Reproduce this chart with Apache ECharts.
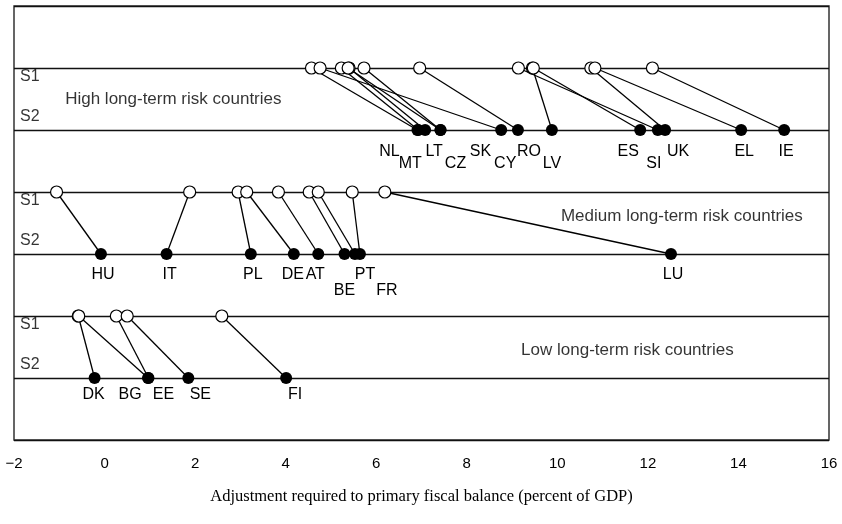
<!DOCTYPE html>
<html>
<head>
<meta charset="utf-8">
<script src="https://cdn.jsdelivr.net/npm/echarts@6/dist/echarts.min.js"></script>
<style>
  html, body { margin: 0; padding: 0; background: #fff; }
  #chart { width: 842px; height: 524px; }
</style>
</head>
<body>
<div id="chart"></div>
<script>
// Fiscal adjustment required under the S1 and S2 sustainability indicators
const highCountries = ['NL', 'MT', 'LT', 'CZ', 'SK', 'CY', 'RO', 'LV', 'ES', 'SI', 'UK', 'EL', 'IE'];
const highS1 = [4.57, 5.23, 5.40, 5.38, 5.73, 4.76, 6.96, 9.45, 9.47, 9.14, 10.74, 10.83, 12.10];
const highS2 = [6.91, 6.93, 7.08, 7.42, 7.42, 8.76, 9.13, 9.88, 11.83, 12.22, 12.38, 14.06, 15.01];

const mediumCountries = ['HU', 'IT', 'PL', 'DE', 'AT', 'BE', 'PT', 'FR', 'LU'];
const mediumS1 = [-1.06, 1.88, 2.95, 3.14, 3.84, 4.52, 4.72, 5.47, 6.19];
const mediumS2 = [-0.08, 1.37, 3.23, 4.18, 4.72, 5.30, 5.53, 5.64, 12.51];

const lowCountries = ['DK', 'BG', 'EE', 'SE', 'FI'];
const lowS1 = [-0.58, -0.57, 0.26, 0.50, 2.59];
const lowS2 = [-0.22, 0.96, 0.97, 1.85, 4.01];

const xTicks = [-2, 0, 2, 4, 6, 8, 10, 12, 14, 16];
const groupTitles = ['High long-term risk countries', 'Medium long-term risk countries', 'Low long-term risk countries'];
const rowNames = ['S1', 'S2'];

// Label placement for country names (pixel nudge from the S2 dot, and row: 0 upper, 1 lower)
const nameNudge = {
  NL: [-28, 0], MT: [-8, 1], LT: [9, 0], CZ: [15, 1], SK: [40, 0], CY: [4, 1], RO: [11, 0],
  LV: [0, 1], ES: [-12, 0], SI: [-4, 1], UK: [13, 0], EL: [3, 0], IE: [2, 0],
  HU: [2, 0], IT: [3, 0], PL: [2, 0], DE: [-1, 0], AT: [-3, 0], BE: [0, 1], PT: [10, 0],
  FR: [27, 1], LU: [2, 0],
  DK: [-1, 0], BG: [-18, 0], EE: [15, 0], SE: [12, 0], FI: [9, 0]
};

const FONT = "'Liberation Sans', Arial, sans-serif";

// Each group occupies two rows on the band axis: S1 above, S2 below
const groups = [
  { names: highCountries, s1: highS1, s2: highS2, yS1: 6, yS2: 5, drop: [21.5, 34] },
  { names: mediumCountries, s1: mediumS1, s2: mediumS2, yS1: 4, yS2: 3, drop: [21, 37] },
  { names: lowCountries, s1: lowS1, s2: lowS2, yS1: 2, yS2: 1, drop: [17, 30] }
];

const linkData = [];
const s1Data = [];
const s2Data = [];
groups.forEach(g => {
  g.names.forEach((name, i) => {
    linkData.push({ coords: [[g.s1[i], g.yS1], [g.s2[i], g.yS2]] });
    s1Data.push({ name: name, value: [g.s1[i], g.yS1] });
    const nudge = nameNudge[name] || [0, 0];
    s2Data.push({
      name: name,
      value: [g.s2[i], g.yS2],
      label: { offset: [nudge[0], g.drop[nudge[1]]] }
    });
  });
});

// Group captions and row tags
const titleSpots = [[-0.87, 5.5], [10.08, 3.613], [9.2, 1.452]];
const noteData = groupTitles.map((t, i) => ({ name: t, value: titleSpots[i], label: { fontSize: 17 } }));
groups.forEach(g => {
  noteData.push({ name: rowNames[0], value: [-2, g.yS1], label: { offset: [6, 9] } });
  noteData.push({ name: rowNames[1], value: [-2, g.yS2], label: { offset: [6, -13] } });
});

const chart = echarts.init(document.getElementById('chart'), null, { renderer: 'canvas' });
chart.setOption({
  animation: false,
  backgroundColor: '#ffffff',
  grid: {
    left: 14, right: 13, top: 6, bottom: 84,
    show: true, borderColor: '#333', borderWidth: 1.5, backgroundColor: 'transparent'
  },
  xAxis: {
    type: 'value', min: -2, max: 16, interval: 2,
    axisLine: { show: false }, axisTick: { show: false }, splitLine: { show: false },
    axisLabel: {
      color: '#000', fontSize: 15, fontFamily: FONT, margin: 16,
      formatter: v => xTicks.includes(v) ? String(v).replace('-', '\u2212') : ''
    },
    name: 'Adjustment required to primary fiscal balance (percent of GDP)',
    nameLocation: 'middle', nameGap: 48,
    nameTextStyle: { color: '#000', fontSize: 16.5, fontFamily: "'Liberation Serif', 'Times New Roman', serif" }
  },
  yAxis: {
    type: 'value', min: 0, max: 7, interval: 1,
    axisLine: { show: false }, axisTick: { show: false }, axisLabel: { show: false },
    splitLine: { show: true, lineStyle: { color: '#111', width: 1.3 } }
  },
  series: [
    {
      type: 'lines', coordinateSystem: 'cartesian2d', silent: true, z: 2,
      lineStyle: { color: '#000', width: 1.3, opacity: 1, curveness: 0 },
      data: linkData
    },
    {
      type: 'scatter', name: 'S1', z: 3, symbol: 'circle', symbolSize: 12, silent: true,
      itemStyle: { color: '#fff', borderColor: '#000', borderWidth: 1.2, opacity: 1 },
      data: s1Data
    },
    {
      type: 'scatter', name: 'S2', z: 4, symbol: 'circle', symbolSize: 12, silent: true,
      itemStyle: { color: '#000', opacity: 1 },
      label: {
        show: true, position: 'inside', formatter: p => p.name,
        color: '#000', fontSize: 16, fontFamily: FONT, align: 'center', verticalAlign: 'middle'
      },
      data: s2Data
    },
    {
      type: 'scatter', name: 'notes', z: 5, symbolSize: 0, silent: true,
      label: {
        show: true, position: 'inside', formatter: p => p.name,
        color: '#000', fontSize: 16, fontFamily: FONT, align: 'left', verticalAlign: 'middle'
      },
      data: noteData
    }
  ]
});
</script>
</body>
</html>
